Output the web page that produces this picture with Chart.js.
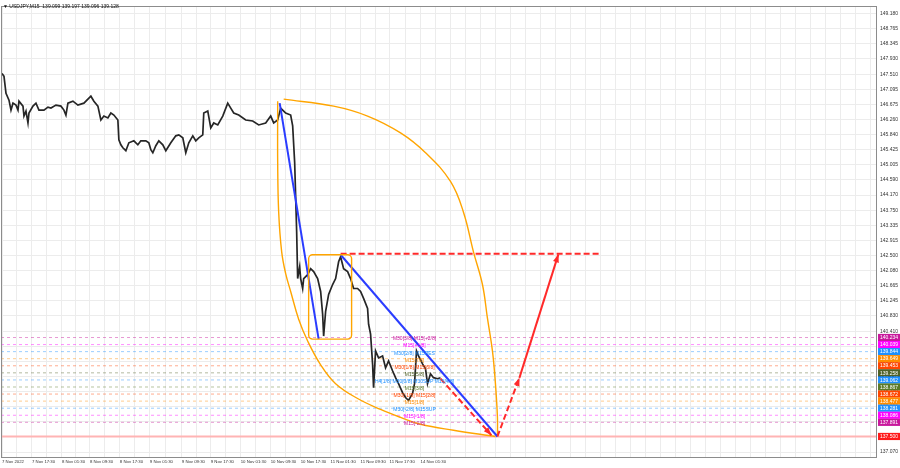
<!DOCTYPE html>
<html>
<head>
<meta charset="utf-8">
<script src="https://cdn.jsdelivr.net/npm/chart.js@4.4.1/dist/chart.umd.min.js"></script>
<style>
html, body { margin: 0; padding: 0; background: #fff; }
#wrap { width: 900px; height: 468px; }
</style>
</head>
<body>
<div id="wrap"><canvas id="chart" width="900" height="468"></canvas></div>
<script>
// ---- data (x = bar position on the time axis, y = price) ----
const barX = [1,3,5,8,10,12,15,17,18,22,23,25,27,28,32,35,38,43,47,50,55,60,63,65,67,72,77,83,88,90,93,97,100,103,107,110,113,117,118,120,122,125,128,133,137,140,145,148,150,152,155,158,162,165,170,175,178,182,185,188,192,195,198,202,203,207,210,213,217,222,227,230,233,238,245,252,258,265,270,273,277,280,283,285,290,292,294,296,297,299,300,302,303,307,310,313,317,320,322,323,325,328,332,335,338,340,343,347,350,353,357,360,363,367,368,370,372,373,375,378,382,385,388,392,395,398,402,405,408,412,414,416,418,422,425,427,430,433,437,440];
const closePrice = [147.530,147.448,146.982,146.791,146.517,146.708,146.654,146.517,146.763,146.626,146.352,146.489,146.161,146.435,146.626,146.708,146.517,146.517,146.599,146.572,146.654,146.626,146.517,146.380,146.708,146.763,146.654,146.708,146.845,146.900,146.763,146.626,146.243,146.352,146.298,146.435,146.380,146.243,145.695,145.558,145.476,145.394,145.613,145.668,145.558,145.668,145.668,145.613,145.422,145.339,145.531,145.668,145.558,145.394,145.613,145.805,145.832,145.750,145.339,145.613,145.805,145.668,145.750,145.832,146.435,146.489,146.024,146.161,146.106,146.352,146.708,146.572,146.435,146.380,146.243,146.216,146.106,146.161,146.352,146.161,146.243,146.572,146.489,146.435,146.380,146.079,145.066,143.149,141.862,142.190,141.862,141.588,141.862,141.971,142.136,142.054,141.862,141.506,140.876,140.274,140.958,141.424,141.698,141.862,142.327,142.464,142.136,142.054,141.862,141.588,141.588,141.506,141.314,141.040,140.602,140.328,139.507,138.850,139.863,139.671,139.726,139.397,139.589,139.315,139.124,138.959,138.713,138.576,138.494,138.686,138.959,139.863,139.726,139.507,139.370,138.959,139.233,139.124,139.096,139.124];

const lastPrice = 139.128;
const headerText = '\u25BC USDJPY,M15  139.099 139.197 139.096 139.128';

const yTicks = [149.180,148.765,148.345,147.930,147.510,147.095,146.675,146.260,145.840,145.425,145.005,144.590,144.170,143.750,143.335,142.915,142.500,142.080,141.665,141.245,140.830,140.410,139.990,139.575,139.155,138.740,138.320,137.905,137.490,137.070];

const timeLabelX = [1,31,61,89,119,149,181,210,240,270,300,330,360,389,420];
const timeLabels = ['7 Nov 2022','7 Nov 17:30','8 Nov 01:30','8 Nov 09:30','8 Nov 17:30','9 Nov 01:30','9 Nov 09:30','9 Nov 17:30','10 Nov 01:30','10 Nov 09:30','10 Nov 17:30','11 Nov 01:30','11 Nov 09:30','11 Nov 17:30','14 Nov 01:30'];

// murrey levels
const levelPrices = [140.234,140.039,139.844,139.649,139.453,139.258,139.062,138.867,138.672,138.477,138.281,138.086,137.891];
const levelNames = ['M30[3/8] M15[+2/8]','M15[+1/8]','M30[2/8] M15RES','M15[7/8]','M30[1/8] M15[6/8]','M15[5/8]','H4[1/8] M30[0/8] M30SUP M15[4/8]','M15[3/8]','M30[-1/8] M15[2/8]','M15[1/8]','M30[-2/8] M15SUP','M15[-1/8]','M15[-2/8]'];
const levelColors = ['#c8189c','#ff00ff','#1e90ff','#ff8c00','#ff4500','#4f6228','#1e90ff','#5b7a2a','#ff4500','#ff8c00','#1e90ff','#ff00ff','#c8189c'];
const levelLabelX = 414;
const supportPrice = 137.500;

// drawn objects
const blue1X = [279, 318], blue1Y = [146.708, 140.190];
const blue2X = [340, 497], blue2Y = [142.520, 137.500];
const arcRightX = [283,333,367,400,425,450,463,473,482,487,492,495,497,497];
const arcRightY = [146.818,146.626,146.352,145.887,145.339,144.545,143.696,142.601,141.698,140.767,139.863,138.959,138.028,137.500];
const arcLeftX = [277,277,278,281,285,290,298,307,320,335,357,380,400,420,453,495];
const arcLeftY = [146.763,145.066,143.696,142.601,141.999,141.506,140.739,140.137,139.480,138.959,138.549,138.247,138.028,137.837,137.672,137.500];
const boxX = [308, 351], boxY = [142.520, 140.190];
const targetX = [340, 600], targetY = [142.550, 142.550];
const dropX = [440, 491], dropY = [139.096, 137.535];
const riseDashX = [497, 519], riseDashY = [137.500, 139.120];
const riseX = [519, 558], riseY = [139.120, 142.530];

function pts(xs, ys) { return xs.map((v, i) => ({ x: v, y: ys[i] })); }

function lineSet(xs, ys, color, width, order, extra) {
    return Object.assign({
        data: pts(xs, ys), borderColor: color, borderWidth: width, pointRadius: 0,
        fill: false, tension: 0, order: order
    }, extra || {});
}

let datasets = [];
datasets.push(lineSet(dropX, dropY, '#ff2a2a', 2, 0, { borderDash: [6, 3] }));
datasets.push(lineSet(riseDashX, riseDashY, '#ff2a2a', 2, 0, { borderDash: [6, 3] }));
datasets.push(lineSet(riseX, riseY, '#ff2a2a', 2, 0));
datasets.push(lineSet(targetX, targetY, '#ff2a2a', 2, 0, { borderDash: [6, 3] }));
datasets.push(lineSet(blue1X, blue1Y, '#2a3cff', 2, 1));
datasets.push(lineSet(blue2X, blue2Y, '#2a3cff', 2, 1));
datasets.push(lineSet(arcRightX, arcRightY, '#ffa500', 1.4, 2, { tension: 0.4 }));
datasets.push(lineSet(arcLeftX, arcLeftY, '#ffa500', 1.4, 2, { tension: 0.4 }));
datasets.push(lineSet(barX, closePrice, '#262626', 1.7, 3));
levelPrices.forEach((p, i) => {
    datasets.push(lineSet([0, 877], [p, p], levelColors[i] + '70', 1, 4, { borderDash: [3, 3] }));
});
datasets.push(lineSet([0, 877], [supportPrice, supportPrice], '#ffb4b4', 2, 4));

function arrowHead(ctx, xs, ys, sx, sy, color) {
    let x0 = sx.getPixelForValue(xs[0]), y0 = sy.getPixelForValue(ys[0]);
    let x1 = sx.getPixelForValue(xs[1]), y1 = sy.getPixelForValue(ys[1]);
    let a = Math.atan2(y1 - y0, x1 - x0);
    ctx.fillStyle = color;
    ctx.beginPath();
    ctx.moveTo(x1, y1);
    ctx.lineTo(x1 - 8 * Math.cos(a) + 3 * Math.sin(a), y1 - 8 * Math.sin(a) - 3 * Math.cos(a));
    ctx.lineTo(x1 - 8 * Math.cos(a) - 3 * Math.sin(a), y1 - 8 * Math.sin(a) + 3 * Math.cos(a));
    ctx.closePath();
    ctx.fill();
}

const overlay = {
    id: 'overlay',
    afterDatasetsDraw(chart) {
        const { ctx, scales: { x, y } } = chart;
        ctx.save();
        // rounded box
        let bx0 = x.getPixelForValue(boxX[0]), bx1 = x.getPixelForValue(boxX[1]);
        let by0 = y.getPixelForValue(boxY[0]), by1 = y.getPixelForValue(boxY[1]);
        ctx.strokeStyle = '#ffa500';
        ctx.lineWidth = 1.4;
        ctx.beginPath();
        ctx.roundRect(bx0, by0, bx1 - bx0, by1 - by0, 4);
        ctx.stroke();
        // arrows
        arrowHead(ctx, dropX, dropY, x, y, '#ff2a2a');
        arrowHead(ctx, riseDashX, riseDashY, x, y, '#ff2a2a');
        arrowHead(ctx, riseX, riseY, x, y, '#ff2a2a');
        // level names
        ctx.font = '5px "Liberation Sans", Arial, sans-serif';
        ctx.textAlign = 'center';
        ctx.textBaseline = 'middle';
        levelPrices.forEach((p, i) => {
            ctx.fillStyle = levelColors[i];
            ctx.fillText(levelNames[i], x.getPixelForValue(levelLabelX), y.getPixelForValue(p) + 1.5);
        });
        ctx.restore();
    },
    afterDraw(chart) {
        const { ctx, chartArea: a, scales: { y } } = chart;
        ctx.save();
        // frame
        ctx.strokeStyle = '#8c8c8c';
        ctx.lineWidth = 1;
        ctx.strokeRect(a.left + 0.5, a.top + 0.5, a.right - a.left - 1, a.bottom - a.top);
        // header
        ctx.font = '5px "Liberation Sans", "DejaVu Sans", Arial, sans-serif';
        ctx.fillStyle = '#111';
        ctx.textAlign = 'left';
        ctx.textBaseline = 'middle';
        ctx.fillText(headerText, 3, 7);
        // price boxes on the right axis
        function box(p, color) {
            let py = y.getPixelForValue(p);
            ctx.fillStyle = color;
            ctx.fillRect(a.right + 1, py - 3.6, 22, 7.2);
            ctx.fillStyle = '#fff';
            ctx.fillText(p.toFixed(3), a.right + 3, py + 0.3);
        }
        box(lastPrice, '#000');
        levelPrices.forEach((p, i) => box(p, levelColors[i]));
        box(supportPrice, '#ff1a1a');
        ctx.restore();
    }
};

new Chart(document.getElementById('chart'), {
    type: 'line',
    data: { datasets: datasets },
    options: {
        responsive: false,
        animation: false,
        events: [],
        layout: { padding: { left: 0, top: 2, right: 0, bottom: 0 } },
        plugins: { legend: { display: false }, tooltip: { enabled: false } },
        scales: {
            x: {
                type: 'linear', min: 0, max: 877,
                afterFit(s) { s.height = 11; },
                afterBuildTicks(s) {
                    let t = timeLabelX.slice();
                    for (let i = 0; i < timeLabelX.length - 1; i++) t.push((timeLabelX[i] + timeLabelX[i + 1]) / 2);
                    for (let v = 435; v < 877; v += 15) t.push(v);
                    t.sort((p, q) => p - q);
                    s.ticks = t.map(v => ({ value: v }));
                },
                grid: { color: '#ececec', drawTicks: false },
                border: { display: false },
                ticks: {
                    autoSkip: false, maxRotation: 0, align: 'start', padding: 2,
                    color: '#333', font: { size: 4.3, family: '"Liberation Sans", Arial, sans-serif' },
                    callback(v) { let i = timeLabelX.indexOf(v); return i >= 0 ? timeLabels[i] : ''; }
                }
            },
            y: {
                type: 'linear', position: 'right', min: 136.933, max: 149.392,
                afterFit(s) { s.width = 23; },
                afterBuildTicks(s) { s.ticks = yTicks.map(v => ({ value: v })); },
                grid: { color: '#ececec', drawTicks: false },
                border: { display: false },
                ticks: {
                    autoSkip: false, padding: 3,
                    color: '#333', font: { size: 5, family: '"Liberation Sans", Arial, sans-serif' },
                    callback(v) { return Number(v).toFixed(3); }
                }
            }
        }
    },
    plugins: [overlay]
});
</script>
</body>
</html>
